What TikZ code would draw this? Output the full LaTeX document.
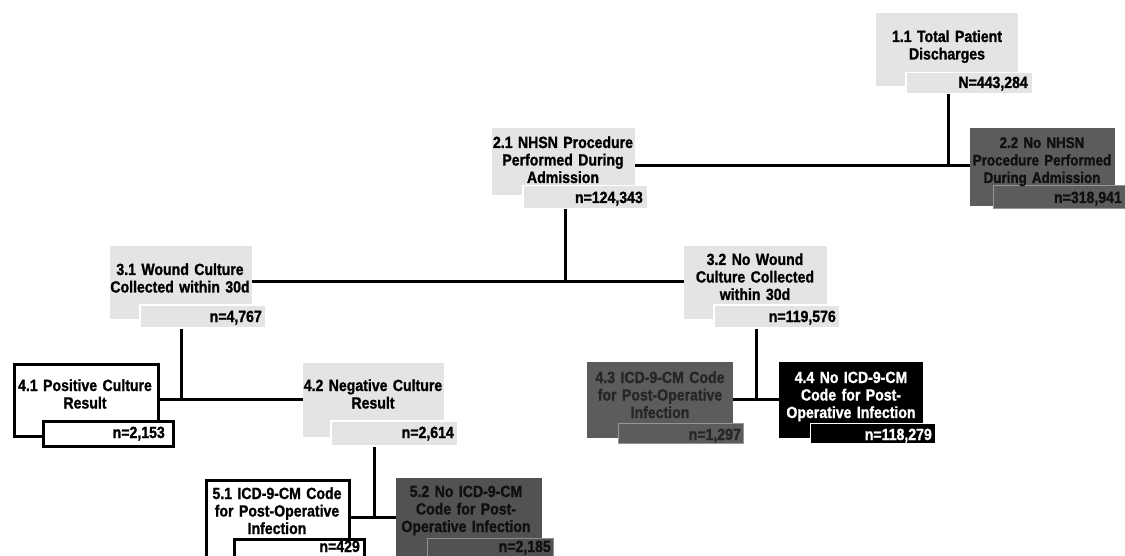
\documentclass[tikz,border=0pt]{standalone}
\usepackage{fontspec}
\setmainfont{Liberation Sans}[FakeStretch=0.87, BoldFeatures={FakeBold=1.2}]
\definecolor{lgray}{HTML}{E4E4E4}
\definecolor{dgray}{HTML}{5C5C5C}
\definecolor{dgrayb}{HTML}{525252}
\definecolor{txtdark}{HTML}{101010}
\definecolor{txtmid}{HTML}{262626}
\tikzset{
  rect/.style={rectangle, inner sep=0pt, anchor=north west},
  lightbox/.style={fill=lgray, draw=none},
  lighttab/.style={fill=lgray, draw=white, line width=1.5pt},
  whitebox/.style={fill=white, draw=black, line width=2.5pt},
  darkbox/.style={fill=dgray, draw=none},
  darktab/.style={fill=dgray, draw=white!35!dgray, line width=1pt},
  darkboxb/.style={fill=dgrayb, draw=none},
  darktabb/.style={fill=dgrayb, draw=white!35!dgrayb, line width=1pt},
  blackbox/.style={fill=black, draw=none},
  blacktab/.style={fill=black, draw=white, line width=1pt},
  lbl/.style={font=\bfseries\fontsize{16.2}{17.5}\selectfont, align=center, text width=160pt, inner sep=0pt, anchor=base},
  cnt/.style={font=\bfseries\fontsize{16.2}{17.5}\selectfont, inner sep=0pt, anchor=base east},
  link/.style={line width=3pt, black}
}
\newcommand\rectnode[6]{%
  \node[rect,#1,minimum width={(#5-#3)*1pt},minimum height={(#6-#4)*1pt}] (#2) at (#3,#4) {};}
\begin{document}
\begin{tikzpicture}[x=1pt,y=-1pt]
\useasboundingbox (0,0) rectangle (1125,556);
\fill[white] (0,0) rectangle (1125,556);
\clip (0,0) rectangle (1125,556);

% 1.1
\rectnode{lightbox}{n11}{876}{13}{1018}{86}
\rectnode{lighttab}{t11}{905}{72}{1032}{93}
\node[lbl] (l11) at (947,42) {1.1 Total Patient\\Discharges};
\node[cnt] (c11) at (1028,88) {N=443,284};

% 2.1
\rectnode{lightbox}{n21}{492}{128}{635}{195}
\rectnode{lighttab}{t21}{522}{185}{647}{208}
\node[lbl] (l21) at (563,148) {2.1 NHSN Procedure\\Performed During\\Admission};
\node[cnt] (c21) at (643,203) {n=124,343};

% 2.2
\rectnode{darkbox}{n22}{970}{128}{1115}{206}
\rectnode{darktab}{t22}{993}{185}{1130}{208}
\node[lbl, text=txtdark, font=\bfseries\fontsize{15.4}{17.5}\selectfont] (l22) at (1042,148) {2.2 No NHSN\\Procedure Performed\\During Admission};
\node[cnt, text=txtdark] (c22) at (1122,203) {n=318,941};

% 3.1
\rectnode{lightbox}{n31}{110}{246}{252}{319}
\rectnode{lighttab}{t31}{139}{304}{265}{327}
\node[lbl] (l31) at (180,275) {3.1 Wound Culture\\Collected within 30d};
\node[cnt] (c31) at (262,322) {n=4,767};

% 3.2
\rectnode{lightbox}{n32}{684}{246}{827}{319}
\rectnode{lighttab}{t32}{713}{304}{839}{327}
\node[lbl] (l32) at (755,265) {3.2 No Wound\\Culture Collected\\within 30d};
\node[cnt] (c32) at (836,322) {n=119,576};

% 4.1
\rectnode{whitebox}{n41}{13}{363}{157}{435}
\rectnode{whitebox}{t41}{42}{420}{172}{445}
\node[lbl] (l41) at (85,391) {4.1 Positive Culture\\Result};
\node[cnt] (c41) at (165,438) {n=2,153};

% 4.2
\rectnode{lightbox}{n42}{303}{363}{444}{437}
\rectnode{lighttab}{t42}{330}{420}{457}{445}
\node[lbl] (l42) at (373,391) {4.2 Negative Culture\\Result};
\node[cnt] (c42) at (454,438) {n=2,614};

% 4.3
\rectnode{darkbox}{n43}{587}{362}{733}{438}
\rectnode{darktab}{t43}{618}{423}{743}{443}
\node[lbl, text=txtmid] (l43) at (660,383) {4.3 ICD-9-CM Code\\for Post-Operative\\Infection};
\node[cnt, text=txtmid] (c43) at (741,440) {n=1,297};

% 4.4
\rectnode{blackbox}{n44}{779}{362}{923}{438}
\rectnode{blacktab}{t44}{810}{423}{935}{443}
\node[lbl, text=white] (l44) at (851,383) {4.4 No ICD-9-CM\\Code for Post-\\Operative Infection};
\node[cnt, text=white] (c44) at (932,440) {n=118,279};

% 5.1
\rectnode{whitebox}{n51}{205}{479}{348}{575}
\rectnode{whitebox}{t51}{233}{538}{363}{575}
\node[lbl] (l51) at (277,499) {5.1 ICD-9-CM Code\\for Post-Operative\\Infection};
\node[cnt] (c51) at (360,552) {n=429};

% 5.2
\rectnode{darkboxb}{n52}{396}{478}{542}{575}
\rectnode{darktabb}{t52}{427}{538}{553}{575}
\node[lbl, text=txtdark] (l52) at (466,497) {5.2 No ICD-9-CM\\Code for Post-\\Operative Infection};
\node[cnt, text=txtdark] (c52) at (551,552) {n=2,185};

% connectors
\coordinate (j1) at (948,166);
\draw[link] (t11.south -| j1) -- (j1);
\draw[link] (n21.east |- j1) -- (n22.west |- j1);
\coordinate (j2) at (565,282);
\draw[link] (t21.south -| j2) -- (j2);
\draw[link] (n31.east |- j2) -- (n32.west |- j2);
\coordinate (j3) at (181,399);
\draw[link] (t31.south -| j3) -- (j3);
\draw[link] (n41.east |- j3) -- (n42.west |- j3);
\coordinate (j4) at (756,399);
\draw[link] (t32.south -| j4) -- (j4);
\draw[link] (n43.east |- j4) -- (n44.west |- j4);
\coordinate (j5) at (374,517);
\draw[link] (t42.south -| j5) -- (j5);
\draw[link] (n51.east |- j5) -- (n52.west |- j5);
\end{tikzpicture}
\end{document}
